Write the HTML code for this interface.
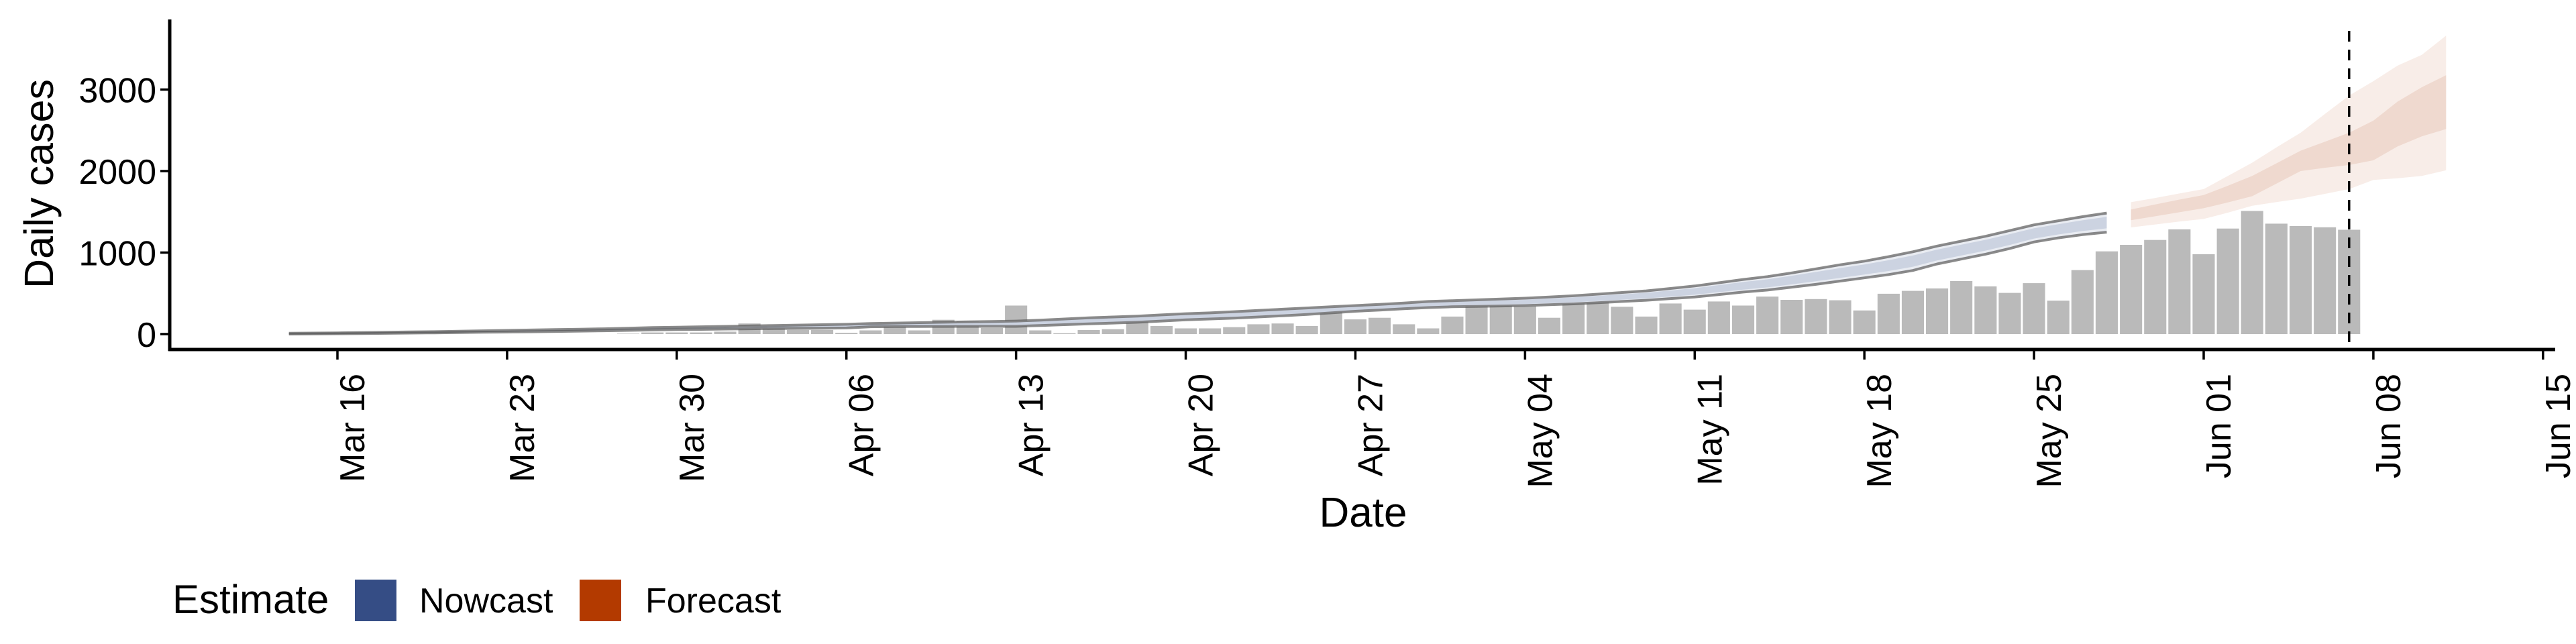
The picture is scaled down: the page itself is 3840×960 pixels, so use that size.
<!DOCTYPE html>
<html><head><meta charset="utf-8"><style>
html,body{margin:0;padding:0;background:#fff;}
svg{display:block;font-family:"Liberation Sans",sans-serif;}
</style></head><body>
<svg id="chart" width="3840" height="960" viewBox="0 0 3840 960" xmlns="http://www.w3.org/2000/svg">
<g id="plot"></g>
<g id="axes"></g>
<g id="legend">
  <text x="257" y="914" font-size="60" fill="#000">Estimate</text>
  <rect x="529" y="864" width="62" height="62" fill="#354d85"/>
  <text x="625" y="913" font-size="52" fill="#000">Nowcast</text>
  <rect x="864" y="864" width="62" height="62" fill="#b33a00"/>
  <text x="962" y="913" font-size="52" fill="#000">Forecast</text>
</g>
</svg>
<script>
// day index 0 = Mar 16
const tickDays = [0,7,14,21,28,35,42,49,56,63,70,77,84,91];
const tickLabels = ["Mar 16","Mar 23","Mar 30","Apr 06","Apr 13","Apr 20","Apr 27","May 04","May 11","May 18","May 25","Jun 01","Jun 08","Jun 15"];
const yTicks = [0,1000,2000,3000];
const barStartDay = 12; // Mar 28
const barValues = [5,20,20,20,30,130,90,50,50,15,
 45,90,45,175,155,75,350,45,10,50,60,170,100,70,70,85,120,130,100,280,180,200,120,70,215,375,420,340,200,425,440,335,215,375,300,400,350,
 460,420,430,415,290,495,530,560,650,585,505,625,410,785,1015,1095,1155,1285,980,1295,1510,1355,1325,1310,1280];
const nowStartDay = -2; // Mar 14
const nowUpper = [10,12,15,18,22,26,30,35,40,45,
 50,55,60,65,72,80,85, 90,95,100,105,110,115,120, 130,135,140,145,150,155,160,
 170,185,200,210,220,235,250, 260,275,290,305,320,335,350, 365,380,400,410,420,430,440,
 455,470,490,510,530,560,590, 630,670,705,750,800,850,895, 950,1010,1080,1140,1200,1270,1340, 1390,1440,1485];
const nowLower = [0,2,4,6,9,12,15,18,22,25,
 28,32,36,40,45,50,55, 58,62,65,68,70,72,75, 90,92,93,94,95,95,95,
 105,115,125,135,145,160,175, 185,195,210,225,240,260,280, 295,310,325,335,340,345,350,
 360,370,385,400,415,435,455, 485,515,540,575,610,650,690, 730,780,860,920,980,1050,1130, 1180,1220,1250];
const foreStartDay = 74; // May 29
const foreOuterHi = [1618,1670,1725,1779,1940,2103,2290,2470,2700,2926,3103,3294,3426,3662];
const foreInnerHi = [1529,1590,1650,1706,1820,1941,2095,2250,2360,2470,2618,2853,3029,3176];
const foreInnerLo = [1397,1445,1495,1544,1615,1691,1845,2000,2040,2074,2132,2303,2426,2515];
const foreOuterLo = [1309,1345,1380,1412,1490,1574,1620,1662,1720,1779,1891,1912,1941,2009];
const reportDay = 83; // Jun 07

const NS="http://www.w3.org/2000/svg";
const X0=503, DX=36.13, Y0=498, KY=0.1215;
function xs(d){return X0+d*DX;}
function ys(v){return Y0-v*KY;}
function mk(tag,attrs,parent){const e=document.createElementNS(NS,tag);for(const k in attrs)e.setAttribute(k,attrs[k]);parent.appendChild(e);return e;}
const plot=document.getElementById('plot'), axes=document.getElementById('axes');

function band(start,hi,lo,fill,name){
  let pts=[];
  for(let i=0;i<hi.length;i++)pts.push(xs(start+i).toFixed(1)+','+ys(hi[i]).toFixed(1));
  for(let i=lo.length-1;i>=0;i--)pts.push(xs(start+i).toFixed(1)+','+ys(lo[i]).toFixed(1));
  const p=mk('polygon',{points:pts.join(' '),fill:fill},plot);
  
  
  return p;
}
function line(start,vals,name){
  const pts=vals.map((v,i)=>xs(start+i).toFixed(1)+','+ys(v).toFixed(1)).join(' ');
  const p=mk('polyline',{points:pts,fill:'none',stroke:'rgba(90,90,90,0.7)','stroke-width':4,'stroke-linejoin':'round'},plot);
  
  
}

// bars
barValues.forEach((v,i)=>{
  const d=barStartDay+i;
  const r=mk('rect',{x:(xs(d)-DX/2+1.5).toFixed(1),y:ys(v).toFixed(1),width:(DX-3).toFixed(1),height:(v*KY).toFixed(1),fill:'#bababa'},plot);
  
  
});

// nowcast ribbons
band(nowStartDay,nowUpper,nowLower,'#e9ecf2','nowcast-outer-ribbon');
const innerHi=nowUpper.map((u,i)=>u-(u-nowLower[i])*0.2);
const innerLo=nowUpper.map((u,i)=>nowLower[i]+(u-nowLower[i])*0.2);
band(nowStartDay,innerHi,innerLo,'#ccd3e1','nowcast-inner-ribbon');
line(nowStartDay,nowUpper,'nowcast-upper-line');
line(nowStartDay,nowLower,'nowcast-lower-line');

// forecast ribbons
band(foreStartDay,foreOuterHi,foreOuterLo,'#f8ede8','forecast-outer-ribbon');
band(foreStartDay,foreInnerHi,foreInnerLo,'#efd9cf','forecast-inner-ribbon');

// report date line
const dl=mk('line',{x1:xs(reportDay),x2:xs(reportDay),y1:46,y2:521,stroke:'#000','stroke-width':3.5,'stroke-dasharray':'16,12'},plot);



// axes
const ya=mk('line',{x1:253,x2:253,y1:29,y2:523,stroke:'#000','stroke-width':5},axes);


const xa=mk('line',{x1:251,x2:3809,y1:521,y2:521,stroke:'#000','stroke-width':5},axes);


yTicks.forEach(v=>{
  const t=mk('line',{x1:239,x2:253,y1:ys(v),y2:ys(v),stroke:'#000','stroke-width':3.5},axes);
  
  
  const l=mk('text',{x:233,y:ys(v)+19,'font-size':52,'text-anchor':'end',fill:'#000'},axes);
  l.textContent=String(v);
  
  
});
tickDays.forEach((d,i)=>{
  const x=xs(d);
  const t=mk('line',{x1:x,x2:x,y1:521,y2:536,stroke:'#000','stroke-width':3.5},axes);
  
  
  const l=mk('text',{x:0,y:0,'font-size':52,'text-anchor':'end',fill:'#000',transform:'translate('+(x+40).toFixed(1)+',557) rotate(-90)'},axes);
  l.textContent=tickLabels[i];
  
  
});
const yt=mk('text',{x:0,y:0,'font-size':61,'text-anchor':'middle',fill:'#000',transform:'translate(79,274) rotate(-90)'},axes);
yt.textContent='Daily cases';


const xt=mk('text',{x:2032,y:785,'font-size':62,'text-anchor':'middle',fill:'#000'},axes);
xt.textContent='Date';


</script>
</body></html>
